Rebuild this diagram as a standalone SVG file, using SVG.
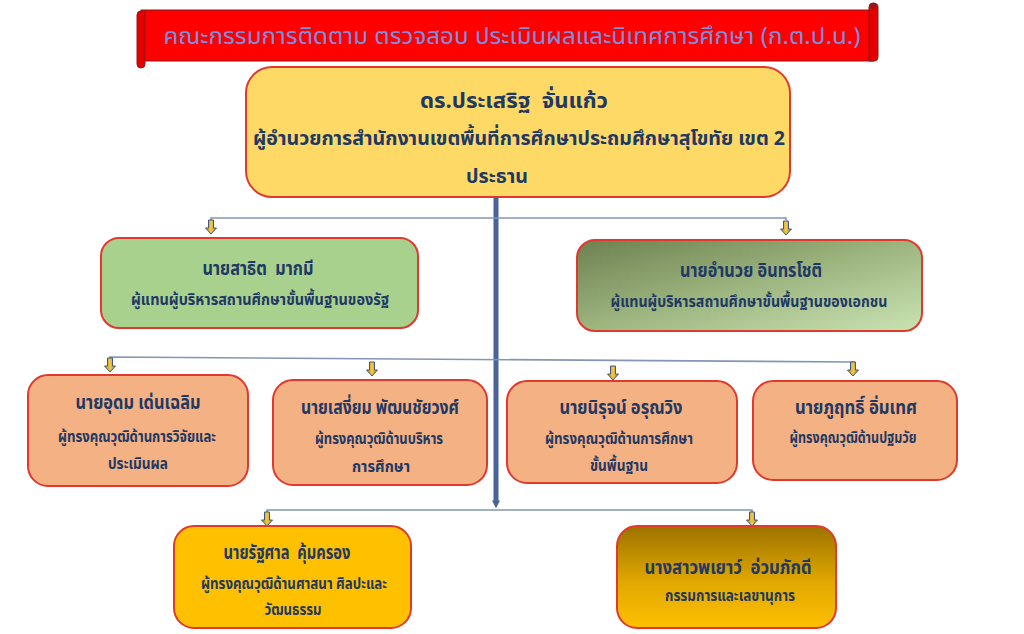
<svg xmlns="http://www.w3.org/2000/svg" width="1024" height="634" viewBox="0 0 1024 634">
<defs>
<style>
.t{font-family:"Noto Sans Thai","Noto Sans","Liberation Sans",sans-serif;font-weight:bold;fill:#203864;text-anchor:middle}
.nm{font-size:19px}
.ds{font-size:16px}
.box{stroke:#E03A2E;stroke-width:2}
.hl{fill:none;stroke:#8496B4;stroke-width:1.6}
</style>
<linearGradient id="gGreen" x1="0" y1="0" x2="1" y2="1">
<stop offset="0" stop-color="#6E8050"/>
<stop offset="0.5" stop-color="#9DB57F"/>
<stop offset="1" stop-color="#C9E3B3"/>
</linearGradient>
<linearGradient id="gGold" x1="0" y1="0" x2="0" y2="1">
<stop offset="0" stop-color="#9E7200"/>
<stop offset="0.55" stop-color="#E0A800"/>
<stop offset="1" stop-color="#FFC000"/>
</linearGradient>
<linearGradient id="gArr" x1="0" y1="0" x2="1" y2="0">
<stop offset="0" stop-color="#B08A10"/>
<stop offset="0.5" stop-color="#F2C94C"/>
<stop offset="1" stop-color="#B08A10"/>
</linearGradient>
<path id="arr" d="M-2.5,0 H2.5 V8 H5.5 L0,14 L-5.5,8 H-2.5 Z" fill="url(#gArr)" stroke="#41577F" stroke-width="1"/>
<marker id="mk" viewBox="0 0 10 10" refX="2" refY="5" markerWidth="8" markerHeight="8" orient="auto" markerUnits="userSpaceOnUse">
<path d="M0,0 L10,5 L0,10 Z" fill="#4A6398"/>
</marker>
</defs>
<rect width="1024" height="634" fill="#FFFFFF"/>

<g id="title">
<rect x="141" y="10" width="733" height="51" fill="#FF0000" stroke="#8A1B1B" stroke-width="1"/>
<path d="M137,15 Q137,11 141,11 L145,11 L145,64 Q145,68 141,68 Q137,68 137,64 Z" fill="#E50000" stroke="#8A1B1B" stroke-width="1"/>
<path d="M869,7 Q869,3 873,3 Q878,3 878,7 L878,57 Q878,61 874,61 L869,61 Z" fill="#E50000" stroke="#8A1B1B" stroke-width="1"/>
<circle cx="873.5" cy="6" r="3" fill="#8A1B1B"/>
<text x="512" y="44" textLength="697" lengthAdjust="spacingAndGlyphs" style="font-family:'Noto Sans Thai','Noto Sans','Liberation Sans',sans-serif;font-size:23px;fill:#7D8EE0;text-anchor:middle">คณะกรรมการติดตาม ตรวจสอบ ประเมินผลและนิเทศการศึกษา (ก.ต.ป.น.)</text>
</g>

<g id="connectors">
<line x1="496" y1="197" x2="496" y2="502" stroke="#4A6398" stroke-width="5" marker-end="url(#mk)"/>
<polyline class="hl" points="211,220 211,218 786,218 786,220"/>
<polyline class="hl" points="110,358 110,357 855,362"/>
<polyline class="hl" points="267,512 267,510 752,510 752,512"/>
<use href="#arr" x="211" y="220"/>
<use href="#arr" x="786" y="221"/>
<use href="#arr" x="110" y="358"/>
<use href="#arr" x="372" y="362"/>
<use href="#arr" x="613" y="366"/>
<use href="#arr" x="853" y="362"/>
<use href="#arr" x="267" y="512"/>
<use href="#arr" x="752" y="512"/>
</g>

<g id="chair">
<rect class="box" x="246" y="67" width="544" height="130" rx="26" fill="#FFD966"/>
<text class="t" x="514" y="108" font-size="22" textLength="188" lengthAdjust="spacingAndGlyphs">ดร.ประเสริฐ&#160;&#160;จั่นแก้ว</text>
<text class="t" x="519" y="145" font-size="20" textLength="532" lengthAdjust="spacingAndGlyphs">ผู้อำนวยการสำนักงานเขตพื้นที่การศึกษาประถมศึกษาสุโขทัย เขต 2</text>
<text class="t" x="497" y="183" font-size="20" textLength="62" lengthAdjust="spacingAndGlyphs">ประธาน</text>
</g>

<g id="n-satit">
<rect class="box" x="101" y="238" width="317" height="90" rx="18" fill="#A9D18E"/>
<text class="t nm" x="258" y="275" textLength="111" lengthAdjust="spacingAndGlyphs">นายสาธิต&#160;&#160;มากมี</text>
<text class="t ds" x="260" y="305" textLength="258" lengthAdjust="spacingAndGlyphs">ผู้แทนผู้บริหารสถานศึกษาขั้นพื้นฐานของรัฐ</text>
</g>

<g id="n-amnuay">
<rect class="box" x="577" y="240" width="345" height="91" rx="18" fill="url(#gGreen)"/>
<text class="t nm" x="751" y="277" textLength="142" lengthAdjust="spacingAndGlyphs">นายอำนวย อินทรโชติ</text>
<text class="t ds" x="749" y="307" textLength="277" lengthAdjust="spacingAndGlyphs">ผู้แทนผู้บริหารสถานศึกษาขั้นพื้นฐานของเอกชน</text>
</g>

<g id="n-udom">
<rect class="box" x="28" y="375" width="220" height="111" rx="20" fill="#F4B183"/>
<text class="t nm" x="138" y="409" textLength="125" lengthAdjust="spacingAndGlyphs">นายอุดม เด่นเฉลิม</text>
<text class="t ds" x="137" y="442" textLength="158" lengthAdjust="spacingAndGlyphs">ผู้ทรงคุณวุฒิด้านการวิจัยและ</text>
<text class="t ds" x="138" y="469" textLength="60" lengthAdjust="spacingAndGlyphs">ประเมินผล</text>
</g>

<g id="n-sangiam">
<rect class="box" x="273" y="380" width="214" height="105" rx="20" fill="#F4B183"/>
<text class="t nm" x="380" y="414" textLength="158" lengthAdjust="spacingAndGlyphs">นายเสงี่ยม พัฒนชัยวงศ์</text>
<text class="t ds" x="379" y="444" textLength="128" lengthAdjust="spacingAndGlyphs">ผู้ทรงคุณวุฒิด้านบริหาร</text>
<text class="t ds" x="381" y="472" textLength="58" lengthAdjust="spacingAndGlyphs">การศึกษา</text>
</g>

<g id="n-niruj">
<rect class="box" x="507" y="381" width="230" height="102" rx="20" fill="#F4B183"/>
<text class="t nm" x="621" y="414" textLength="123" lengthAdjust="spacingAndGlyphs">นายนิรุจน์ อรุณวิง</text>
<text class="t ds" x="619" y="444" textLength="148" lengthAdjust="spacingAndGlyphs">ผู้ทรงคุณวุฒิด้านการศึกษา</text>
<text class="t ds" x="619" y="471" textLength="58" lengthAdjust="spacingAndGlyphs">ขั้นพื้นฐาน</text>
</g>

<g id="n-phurit">
<rect class="box" x="753" y="381" width="204" height="99" rx="20" fill="#F4B183"/>
<text class="t nm" x="856" y="414" textLength="122" lengthAdjust="spacingAndGlyphs">นายภูฤทธิ์ อิ่มเทศ</text>
<text class="t ds" x="853" y="443" textLength="127" lengthAdjust="spacingAndGlyphs">ผู้ทรงคุณวุฒิด้านปฐมวัย</text>
</g>

<g id="n-ratthasan">
<rect class="box" x="174" y="526" width="237" height="102" rx="20" fill="#FFC000"/>
<text class="t nm" x="287" y="559" textLength="127" lengthAdjust="spacingAndGlyphs">นายรัฐศาล&#160;&#160;คุ้มครอง</text>
<text class="t ds" x="294" y="589" textLength="186" lengthAdjust="spacingAndGlyphs">ผู้ทรงคุณวุฒิด้านศาสนา ศิลปะและ</text>
<text class="t ds" x="293" y="615" textLength="57" lengthAdjust="spacingAndGlyphs">วัฒนธรรม</text>
</g>

<g id="n-payao">
<rect class="box" x="617" y="526" width="219" height="102" rx="20" fill="url(#gGold)"/>
<text class="t nm" x="728" y="574" textLength="167" lengthAdjust="spacingAndGlyphs">นางสาวพเยาว์&#160;&#160;อ่วมภักดี</text>
<text class="t ds" x="730" y="601" textLength="130" lengthAdjust="spacingAndGlyphs">กรรมการและเลขานุการ</text>
</g>
</svg>
